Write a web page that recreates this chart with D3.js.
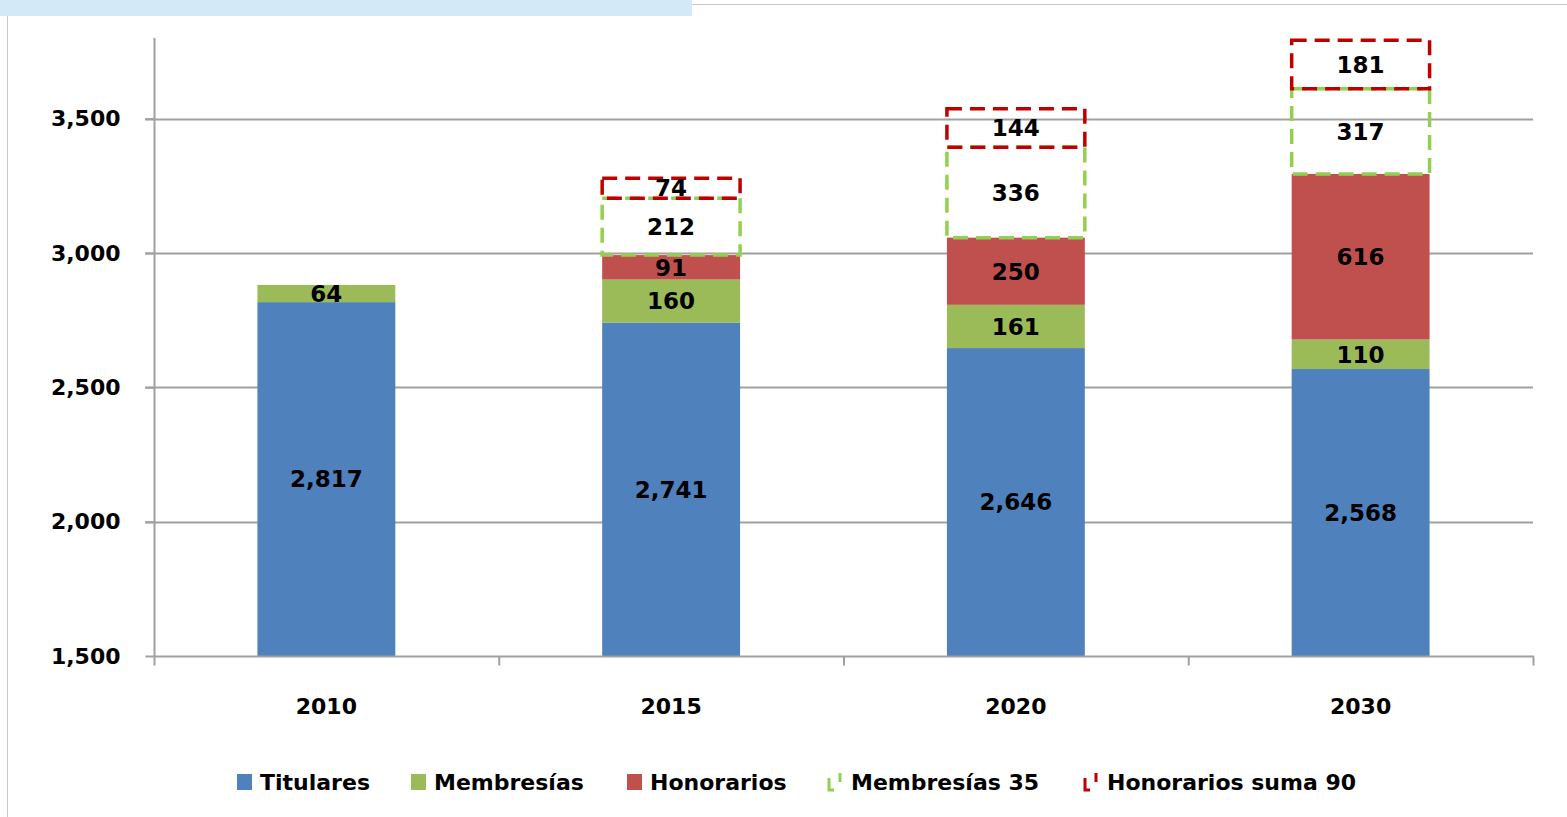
<!DOCTYPE html>
<html>
<head>
<meta charset="utf-8">
<script src="https://cdn.jsdelivr.net/npm/d3@7"></script>
<style>
  body { margin: 0; background: #fff; }
  svg { display: block; font-family: "DejaVu Sans", Verdana, sans-serif; }
</style>
</head>
<body>
<div id="chart"></div>
<script>
const years = ['2010', '2015', '2020', '2030'];
const titulares = [2817, 2741, 2646, 2568];
const membresias = [64, 160, 161, 110];
const honorarios = [0, 91, 250, 616];
const membresias35 = [0, 212, 336, 317];
const honorariosSuma90 = [0, 74, 144, 181];
const yTicks = [1500, 2000, 2500, 3000, 3500];

const W = 1567, H = 817;
const svg = d3.select('#chart').append('svg').attr('width', W).attr('height', H);

// page decoration
svg.append('rect').attr('x', 0).attr('y', 0).attr('width', 692).attr('height', 16).attr('fill', '#d3e9f7');
svg.append('line').attr('x1', 692).attr('x2', W).attr('y1', 4.5).attr('y2', 4.5).attr('stroke', '#c8c8c8');
svg.append('line').attr('x1', 7.5).attr('x2', 7.5).attr('y1', 16).attr('y2', H).attr('stroke', '#c8c8c8');

const x = d3.scaleBand().domain(years).range([154, 1533]).paddingInner(0.6).paddingOuter(0.3);
const y = d3.scaleLinear().domain([1500, 3800]).range([656, 38]);
const base = y.domain()[0];
const lo = d => Math.max(d[0], base);

const rows = years.map((yr, i) => ({
  year: yr,
  titulares: titulares[i],
  membresias: membresias[i],
  honorarios: honorarios[i],
  membresias35: membresias35[i],
  honorariosSuma90: honorariosSuma90[i]
}));

const keys = ['titulares', 'membresias', 'honorarios', 'membresias35', 'honorariosSuma90'];
const series = d3.stack().keys(keys)(rows);
const fills = { titulares: '#4f81bd', membresias: '#9bbb59', honorarios: '#c0504d' };
const dashed = { membresias35: '#92d050', honorariosSuma90: '#c00000' };

// grid
svg.append('g')
  .selectAll('line')
  .data(yTicks.slice(1))
  .join('line')
  .attr('x1', 145).attr('x2', 1533)
  .attr('y1', d => Math.round(y(d)) + 0.5).attr('y2', d => Math.round(y(d)) + 0.5)
  .attr('stroke', '#a0a0a0').attr('stroke-width', 2);

// solid bars (clipped at the axis baseline)
series.filter(s => fills[s.key]).forEach(s => {
  svg.append('g').selectAll('rect')
    .data(s.filter(d => d[1] > d[0]))
    .join('rect')
    .attr('x', d => x(d.data.year))
    .attr('width', x.bandwidth())
    .attr('y', d => y(d[1]))
    .attr('height', d => y(lo(d)) - y(d[1]))
    .attr('fill', fills[s.key]);
});

// dashed bars
series.filter(s => dashed[s.key]).forEach(s => {
  svg.append('g').selectAll('rect')
    .data(s.filter(d => d[1] > d[0]))
    .join('rect')
    .attr('x', d => x(d.data.year))
    .attr('width', x.bandwidth())
    .attr('y', d => y(d[1]))
    .attr('height', d => y(d[0]) - y(d[1]))
    .attr('fill', 'none')
    .attr('stroke', dashed[s.key])
    .attr('stroke-width', 3.5)
    .attr('stroke-dasharray', '15 8');
});

// value labels
series.forEach(s => {
  svg.append('g').selectAll('text')
    .data(s.filter(d => d[1] > d[0]))
    .join('text')
    .attr('x', d => x(d.data.year) + x.bandwidth() / 2)
    .attr('y', d => (y(lo(d)) + y(d[1])) / 2)
    .attr('dy', '0.36em')
    .attr('text-anchor', 'middle')
    .attr('font-size', 23)
    .attr('font-weight', 'bold')
    .attr('fill', '#000')
    .text(d => d3.format(',')(d[1] - d[0]));
});

// y axis
const yAxis = svg.append('g').attr('transform', 'translate(154.5,0)')
  .call(d3.axisLeft(y).tickValues(yTicks).tickFormat(d3.format(',')).tickSize(9).tickPadding(25));
yAxis.select('.domain').attr('d', `M0,38V${y(1500)}`).attr('stroke', '#a0a0a0').attr('stroke-width', 2);
yAxis.selectAll('.tick line').attr('stroke', '#a0a0a0').attr('stroke-width', 2);
yAxis.selectAll('.tick text').attr('font-size', 22).attr('font-weight', 'bold').attr('fill', '#000')
  .attr('font-family', '"DejaVu Sans", Verdana, sans-serif');

// x axis
const xAxis = svg.append('g').attr('transform', `translate(0,${Math.round(y(1500)) + 0.5})`);
xAxis.append('line').attr('x1', 154).attr('x2', 1534).attr('stroke', '#a0a0a0').attr('stroke-width', 2);
const edges = d3.range(years.length + 1).map(i => 154 + i * x.step());
xAxis.selectAll('.xt').data(edges).join('line').attr('class', 'xt')
  .attr('x1', d => d + 0.5).attr('x2', d => d + 0.5).attr('y1', 0).attr('y2', 9)
  .attr('stroke', '#a0a0a0').attr('stroke-width', 2);
xAxis.selectAll('text').data(years).join('text')
  .attr('x', d => x(d) + x.bandwidth() / 2)
  .attr('y', 57)
  .attr('text-anchor', 'middle')
  .attr('font-size', 22).attr('font-weight', 'bold').attr('fill', '#000')
  .text(d => d);

// legend
const legendItems = [
  { label: 'Titulares', key: 'titulares', x: 237 },
  { label: 'Membresías', key: 'membresias', x: 411 },
  { label: 'Honorarios', key: 'honorarios', x: 627 },
  { label: 'Membresías 35', key: 'membresias35', x: 826 },
  { label: 'Honorarios suma 90', key: 'honorariosSuma90', x: 1082 }
];
const lg = svg.append('g').attr('transform', 'translate(0,782)');
legendItems.forEach(it => {
  const g = lg.append('g').attr('transform', `translate(${it.x},0)`);
  if (fills[it.key]) {
    g.append('rect').attr('x', 0).attr('y', -8).attr('width', 15).attr('height', 16).attr('fill', fills[it.key]);
  } else {
    g.append('path').attr('d', 'M3,-4V8H8').attr('fill', 'none').attr('stroke', dashed[it.key]).attr('stroke-width', 3);
    g.append('path').attr('d', 'M14,-9V0').attr('fill', 'none').attr('stroke', dashed[it.key]).attr('stroke-width', 3);
  }
  g.append('text').attr('x', fills[it.key] ? 23 : 25).attr('y', 0).attr('dy', '0.36em')
    .attr('font-size', 22).attr('font-weight', 'bold').attr('fill', '#000')
    .text(it.label);
});
</script>
</body>
</html>
